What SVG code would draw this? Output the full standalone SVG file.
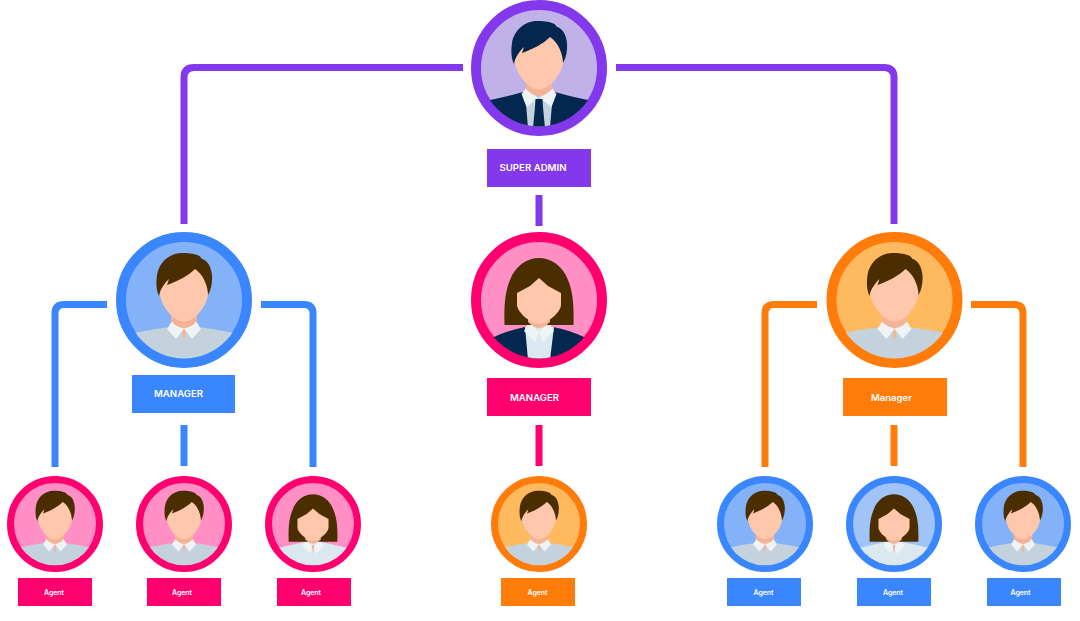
<svg xmlns="http://www.w3.org/2000/svg" width="1080" height="621" viewBox="0 0 1080 621">
<style>
.c{fill:none;stroke-width:7}
.s-pu{stroke:#8338EC}.s-bl{stroke:#3A86FF}.s-pk{stroke:#FF006E}.s-or{stroke:#FF7B0A}
.f-pu{fill:#8338EC}.f-bl{fill:#3A86FF}.f-pk{fill:#FF006E}.f-or{fill:#FF7B0A}
.r{stroke-width:10}
.b-pu{fill:#C0B1E8}.b-bl{fill:#84B2F8}.b-bl2{fill:#A0C4F7}.b-pk{fill:#FF8FC4}.b-or{fill:#FFB95F}
text{fill:#fff;font-family:"Inter","Open Sans","Liberation Sans",sans-serif;font-weight:600;text-anchor:middle}
.t1{font-size:9px}.t2{font-size:7px}
.brown{color:#4B2E00}.navy{color:#03274F}
</style>
<defs>
<clipPath id="clip"><circle r="58.5"/></clipPath>
<path id="manhead" d="M-13,8V21Q-7,28 0,28Q7,28 13,21V8Z" fill="#F4B394"/>
<path id="manface" d="M-24.500,-10C-24.500,6 -10,21.500 0,21.500C10,21.500 24.500,6 24.500,-10C24.500,-26 12,-34 0,-34C-12,-34 -24.500,-26 -24.500,-10Z" fill="#FFC7AC"/>
<path id="manhair" fill="currentColor" d="M-25,-4C-28,-10 -28,-18 -27,-25C-25,-38 -14,-47 -2,-47C4,-47 9,-46.500 13,-45C16,-44 17,-42.500 18,-41C23,-40 27,-34 28,-25C28.500,-17 27,-10 24,-5C24,-14 19,-26 11,-31C4,-24 -6,-19 -17,-15L-15,-21C-19,-17 -24,-11 -25,-4Z"/>
<g id="man">
<use href="#manhead"/><use href="#manface"/><use href="#manhair"/>
</g>
<g id="shirt" clip-path="url(#clip)">
<path d="M-70,70V38Q-40,30 -14,27H14Q40,30 70,38V70Z" fill="#C3D2DC"/>
<path d="M-3,28H3L0,41Z" fill="#F4B394"/>
<path d="M-12,21L-17,29L-8,39L0,29Z M12,21L17,29L8,39L0,29Z" fill="#EEF4F6"/>
</g>
<g id="suit" clip-path="url(#clip)">
<path d="M-70,70V36Q-40,31 -16,24H16Q40,31 70,36V70Z" fill="#03274F"/>
<path d="M-14,24H14L11,60H-11Z" fill="#C3D2DC"/>
<path d="M-13,20L-17.500,26L-12.500,39L-1,30Z M13,20L17.500,26L12.500,39L1,30Z" fill="#EEF4F6"/>
<path d="M-3.500,31H3.500L4,39L6,60H-6L-4,39Z" fill="#03274F"/>
</g>
<g id="woman">
<path fill="currentColor" d="M-34.500,25C-35,5 -34,-8 -29,-20C-24,-34 -12,-42 0,-42C12,-42 24,-34 29,-20C34,-8 35,5 34.500,25H-34.500Z"/>
<path d="M-11,8V22Q-5,28 0,28Q5,28 11,22V8Z" fill="#F4B394"/>
<path d="M-22,-7L-9,-14L0,-22L9,-14L22,-7V5C22,12 8,24 0,24C-8,24 -22,12 -22,5Z" fill="#FFC7AC"/>
</g>
<g id="womansuit" clip-path="url(#clip)">
<path d="M-70,70V45L-45,37Q-30,30 -14,27H14Q30,30 45,37L70,45V70Z" fill="#03274F"/>
<path d="M-14,27H15L11,60H-11Z" fill="#DCE8F0"/>
<path d="M-10,22L-15,31L-4,42L0,32Z M10,22L15,31L4,42L0,32Z" fill="#EEF4F6"/>
</g>
<g id="womanblouse" clip-path="url(#clip)">
<path d="M-70,70V40Q-35,30 -14,26H14Q35,30 70,40V70Z" fill="#DCE8F0"/>
<path d="M-10,22L-15,31L-4,42L0,32Z M10,22L15,31L4,42L0,32Z" fill="#EEF4F6"/>
<path d="M-2,30H2L0,41Z" fill="#F4B394"/>
</g>
</defs>
<rect width="1080" height="621" fill="#fff"/>
<g id="connectors">
<path class="c s-pu" d="M463,67.500H194Q184,67.500 184,77.500V224"/>
<path class="c s-pu" d="M616,67.500H884Q894,67.500 894,77.500V224"/>
<path class="c s-pu" d="M539,195V226"/>
<path class="c s-bl" d="M107,304.500H64Q55,304.500 55,313.500V467"/>
<path class="c s-bl" d="M261,304.500H304Q313,304.500 313,313.500V467"/>
<path class="c s-bl" d="M184,425V466"/>
<path class="c s-pk" d="M539,425V466"/>
<path class="c s-or" d="M817,304.500H774Q765,304.500 765,313.500V467"/>
<path class="c s-or" d="M971,304.500H1014Q1023,304.500 1023,313.500V467"/>
<path class="c s-or" d="M894,425V466"/>
</g>
<g id="super-admin">
<g transform="translate(539 68)"><circle r="63" class="r s-pu b-pu"/><use href="#suit"/><use href="#man" class="navy"/></g>
<rect x="487" y="149" width="104" height="38" class="f-pu"/><text x="533" y="171" class="t1" textLength="67" lengthAdjust="spacingAndGlyphs">SUPER ADMIN</text>
</g>
<g id="manager-left">
<g transform="translate(184 300)"><circle r="63" class="r s-bl b-bl"/><use href="#shirt"/><use href="#man" class="brown"/></g>
<rect x="132" y="375" width="103" height="38" class="f-bl"/><text x="178.500" y="397" class="t1" textLength="49" lengthAdjust="spacingAndGlyphs">MANAGER</text>
</g>
<g id="manager-center">
<g transform="translate(539 300)"><circle r="63" class="r s-pk b-pk"/><use href="#womansuit"/><use href="#woman" class="brown"/></g>
<rect x="487" y="378" width="104" height="38" class="f-pk"/><text x="534.500" y="401" class="t1" textLength="49" lengthAdjust="spacingAndGlyphs">MANAGER</text>
</g>
<g id="manager-right">
<g transform="translate(894.500 300)"><circle r="63" class="r s-or b-or"/><use href="#shirt"/><use href="#man" class="brown"/></g>
<rect x="843" y="378" width="104" height="38" class="f-or"/><text x="891.500" y="401" class="t1" textLength="41" lengthAdjust="spacingAndGlyphs">Manager</text>
</g>
<g id="agent-1">
<g transform="translate(55 524) scale(.706)"><circle r="63" class="r s-pk b-pk"/><use href="#shirt"/><use href="#man" class="brown"/></g>
<rect x="18" y="578" width="74" height="28" class="f-pk"/><text x="54" y="595" class="t2" textLength="20">Agent</text>
</g>
<g id="agent-2">
<g transform="translate(184 524) scale(.706)"><circle r="63" class="r s-pk b-pk"/><use href="#shirt"/><use href="#man" class="brown"/></g>
<rect x="147" y="578" width="74" height="28" class="f-pk"/><text x="182" y="595" class="t2" textLength="20">Agent</text>
</g>
<g id="agent-3">
<g transform="translate(313 524) scale(.706)"><circle r="63" class="r s-pk b-pk"/><use href="#womanblouse"/><use href="#woman" class="brown"/></g>
<rect x="277" y="578" width="74" height="28" class="f-pk"/><text x="311" y="595" class="t2" textLength="20">Agent</text>
</g>
<g id="agent-4">
<g transform="translate(539 524) scale(.706)"><circle r="63" class="r s-or b-or"/><use href="#shirt"/><use href="#man" class="brown"/></g>
<rect x="501" y="578" width="74" height="28" class="f-or"/><text x="537.500" y="595" class="t2" textLength="20">Agent</text>
</g>
<g id="agent-5">
<g transform="translate(765 524) scale(.706)"><circle r="63" class="r s-bl b-bl"/><use href="#shirt"/><use href="#man" class="brown"/></g>
<rect x="727" y="578" width="74" height="28" class="f-bl"/><text x="763.500" y="595" class="t2" textLength="20">Agent</text>
</g>
<g id="agent-6">
<g transform="translate(894 524) scale(.706)"><circle r="63" class="r s-bl b-bl2"/><use href="#womanblouse"/><use href="#woman" class="brown"/></g>
<rect x="857" y="578" width="74" height="28" class="f-bl"/><text x="893" y="595" class="t2" textLength="20">Agent</text>
</g>
<g id="agent-7">
<g transform="translate(1023 524) scale(.706)"><circle r="63" class="r s-bl b-bl"/><use href="#shirt"/><use href="#man" class="brown"/></g>
<rect x="987" y="578" width="74" height="28" class="f-bl"/><text x="1020.500" y="595" class="t2" textLength="20">Agent</text>
</g>
</svg>
